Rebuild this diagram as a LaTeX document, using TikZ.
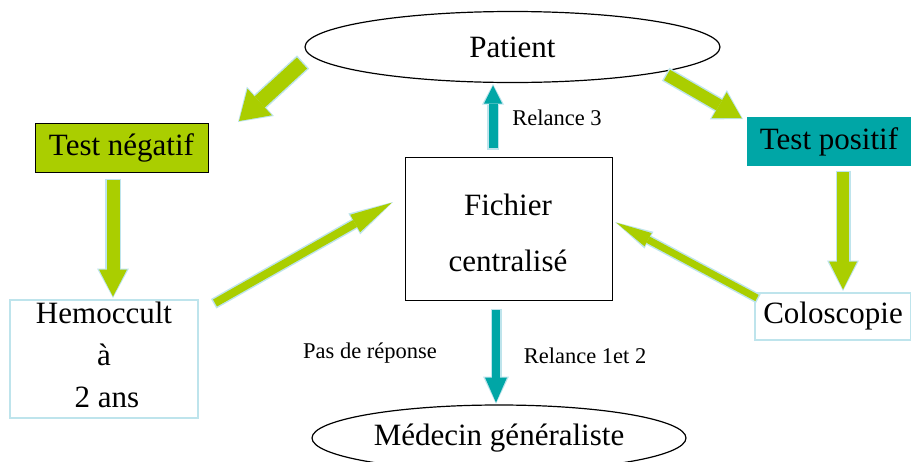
\documentclass[tikz,border=0pt]{standalone}
\usepackage{fontspec}
\setmainfont{Liberation Serif}
\usetikzlibrary{arrows.meta,shapes.geometric}
\definecolor{limeg}{RGB}{170,206,0}
\definecolor{tealc}{RGB}{0,166,166}
\definecolor{edgeb}{RGB}{190,228,236}
\newcommand\fatarr[6]{%
 \pgfmathsetmacro\faOs{#4+3}\pgfmathsetmacro\faOw{#5+4}\pgfmathsetmacro\faOl{#6+2.5}%
 \draw[draw=edgeb, line width=\faOs pt, -{Triangle[width=\faOw pt,length=\faOl pt,line width=0pt]}, shorten <=-1.5pt] (#1) -- (#2);
 \draw[draw=#3, line width=#4pt, -{Triangle[width=#5pt,length=#6pt,line width=0pt]}, shorten >=1.5pt] (#1) -- (#2);}
\begin{document}
\begin{tikzpicture}[x=1pt,y=-1pt,
  big/.style={font=\fontsize{31}{40}\selectfont},
  small/.style={font=\fontsize{22.5}{27}\selectfont},
  oval/.style={draw, ellipse, line width=1.2pt, inner sep=0pt, big},
  plainbox/.style={rectangle, inner sep=0pt, big},
  lightbox/.style={plainbox, draw=edgeb, line width=1.5pt}]
\path[use as bounding box] (0,0) rectangle (911,461);
\clip (0,0) rectangle (911,461);
% nodes
\node[oval, minimum width=415pt, minimum height=71pt] (patient) at (512.5,47) {Patient};
\node[oval, minimum width=374pt, minimum height=66pt] (med) at (499,438) {Médecin généraliste};
\node[plainbox, draw, line width=1pt, fill=limeg, minimum width=173pt, minimum height=49pt] (neg) at (121.5,148) {Test négatif};
\node[plainbox, fill=tealc, minimum width=164pt, minimum height=49pt] (pos) at (829,141.5) {Test positif};
\node[plainbox, draw, line width=1pt, minimum width=207pt, minimum height=143pt] (fich) at (508.5,228.5) {};
\node[big, align=center, font=\fontsize{31}{56}\selectfont] (ficht) at (508,233) {Fichier\\centralisé};
\node[lightbox, minimum width=188pt, minimum height=118pt] (hemo) at (104,359) {};
\node[big, align=center, font=\fontsize{31}{42}\selectfont] (hemot) at (104,355) {Hemoccult\\à\\\hspace{6pt}2 ans};
\node[lightbox, minimum width=156pt, minimum height=47pt] (colo) at (833,316.5) {Coloscopie};
\node[small] (l3) at (557,118) {Relance 3};
\node[small] (lpr) at (370,353) {Pas de réponse};
\node[small] (l12) at (585,356) {Relance 1et 2};
% arrow end points
\coordinate (a1s) at (302,63);  \coordinate (a1e) at (238,122);
\coordinate (a2s) at (667,75);  \coordinate (a2e) at (743,119);
\coordinate (a3s) at (113,180); \coordinate (a3e) at (113,298);
\coordinate (a4s) at (843,172); \coordinate (a4e) at (843,291);
\coordinate (a5s) at (215,303); \coordinate (a5e) at (393,202);
\coordinate (a6s) at (757,298); \coordinate (a6e) at (615,222);
\coordinate (t1s) at (493,148); \coordinate (t1e) at (493,84);
\coordinate (t2s) at (496,310); \coordinate (t2e) at (496,404);
\fatarr{a1s}{a1e}{limeg}{15}{36}{28}
\fatarr{a2s}{a2e}{limeg}{12}{30}{26}
\fatarr{a3s}{a3e}{limeg}{13}{28}{27}
\fatarr{a4s}{a4e}{limeg}{12}{28}{28}
\fatarr{a5s}{a5e}{limeg}{8}{20}{42}
\fatarr{a6s}{a6e}{limeg}{7}{15}{36}
\fatarr{t1s}{t1e}{tealc}{9}{18}{18}
\fatarr{t2s}{t2e}{tealc}{8}{22}{25}
\end{tikzpicture}
\end{document}
